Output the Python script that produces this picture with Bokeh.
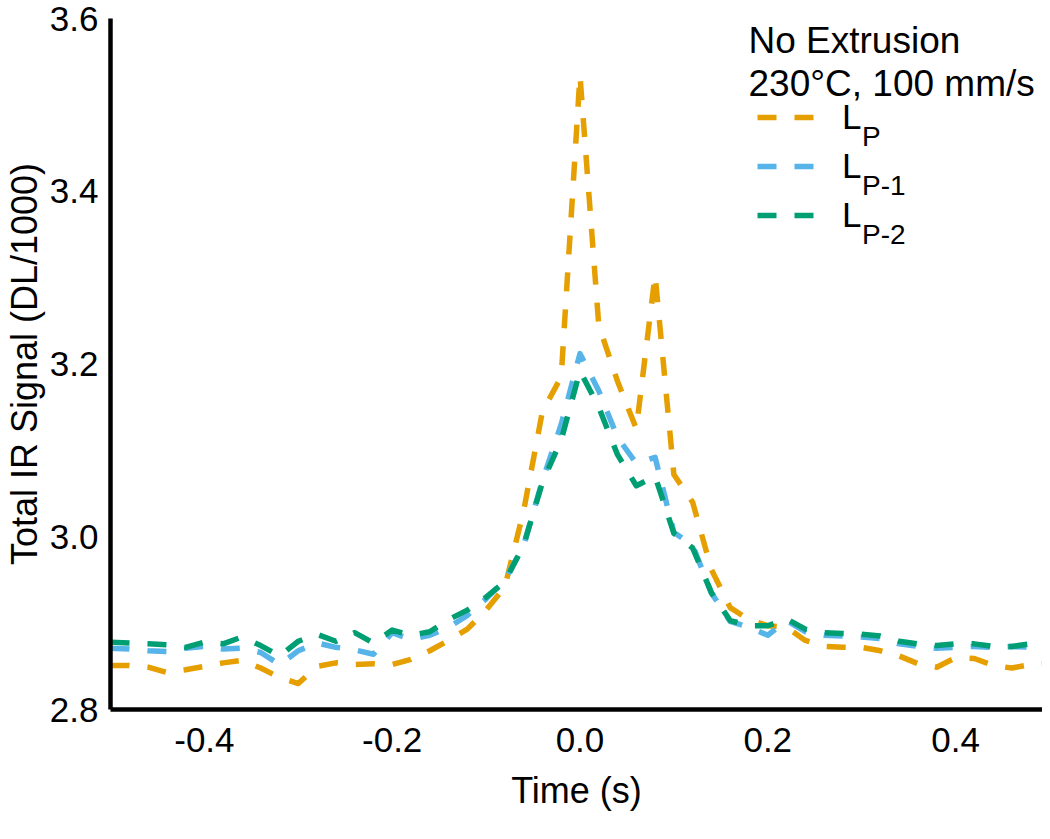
from bokeh.plotting import figure
from bokeh.models import Range1d, FixedTicker, PrintfTickFormatter, Legend, LegendItem, Label
from bokeh.embed import file_html
from bokeh.resources import INLINE

time_s = [-0.50, -0.48, -0.46, -0.44, -0.42, -0.40, -0.38, -0.36, -0.34, -0.32,
          -0.30, -0.28, -0.26, -0.24, -0.22, -0.20, -0.18, -0.16, -0.14, -0.12,
          -0.10, -0.08, -0.06, -0.04, -0.02, 0.00, 0.02, 0.04, 0.06, 0.08,
          0.10, 0.12, 0.14, 0.16, 0.18, 0.20, 0.22, 0.24, 0.26, 0.28,
          0.30, 0.32, 0.34, 0.36, 0.38, 0.40, 0.42, 0.44, 0.46, 0.48, 0.50]

lp = [2.851, 2.851, 2.849, 2.843, 2.846, 2.850, 2.854, 2.857, 2.848, 2.837,
      2.830, 2.850, 2.854, 2.852, 2.853, 2.852, 2.858, 2.868, 2.880, 2.893,
      2.915, 2.942, 3.030, 3.145, 3.185, 3.534, 3.245, 3.180, 3.125, 3.303,
      3.072, 3.040, 2.962, 2.918, 2.904, 2.897, 2.895, 2.880, 2.873, 2.872,
      2.872, 2.868, 2.862, 2.853, 2.849, 2.860, 2.859, 2.851, 2.848, 2.852, 2.853]

lp1 = [2.871, 2.870, 2.868, 2.867, 2.871, 2.873, 2.870, 2.871, 2.866, 2.852,
       2.868, 2.877, 2.872, 2.869, 2.864, 2.889, 2.881, 2.886, 2.895, 2.909,
       2.928, 2.950, 2.990, 3.065, 3.130, 3.212, 3.169, 3.115, 3.085, 3.092,
       3.005, 2.990, 2.935, 2.902, 2.895, 2.886, 2.903, 2.890, 2.886, 2.885,
       2.884, 2.882, 2.876, 2.873, 2.871, 2.872, 2.873, 2.872, 2.873, 2.872, 2.871]

lp2 = [2.878, 2.877, 2.876, 2.875, 2.872, 2.878, 2.876, 2.884, 2.874, 2.862,
       2.879, 2.887, 2.879, 2.889, 2.877, 2.892, 2.886, 2.890, 2.904, 2.915,
       2.930, 2.948, 2.990, 3.063, 3.112, 3.192, 3.150, 3.095, 3.059, 3.070,
       3.004, 2.987, 2.935, 2.903, 2.897, 2.897, 2.905, 2.893, 2.889, 2.888,
       2.887, 2.885, 2.879, 2.876, 2.874, 2.876, 2.876, 2.873, 2.873, 2.876, 2.876]

x_ticks = [-0.4, -0.2, 0.0, 0.2, 0.4]
y_ticks = [2.8, 3.0, 3.2, 3.4, 3.6]

title_lines = ["No Extrusion", "230\u00b0C, 100 mm/s"]
series_names = ["L", "L", "L"]
series_subs = ["P", "P-1", "P-2"]
colors = ["#E69F00", "#56B4E9", "#009E73"]

FONT = "Liberation Sans"

p = figure(width=1042, height=823,
           x_range=Range1d(-0.5, 0.4926), y_range=Range1d(2.8, 3.6),
           output_backend="svg", toolbar_location=None,
           min_border_left=104, min_border_right=0,
           min_border_top=18, min_border_bottom=114)

p.outline_line_color = None
p.xgrid.grid_line_color = None
p.ygrid.grid_line_color = None
p.background_fill_color = "white"
p.border_fill_color = "white"

renderers = []
for ys, c in zip([lp, lp1, lp2], colors):
    r = p.line(time_s, ys, line_color=c, line_width=5.5, line_dash="19 18",
               line_join="round", line_cap="butt")
    renderers.append(r)

for ax in (p.xaxis[0], p.yaxis[0]):
    ax.axis_line_color = "black"
    ax.axis_line_width = 4.5
    ax.major_tick_line_color = None
    ax.minor_tick_line_color = None
    ax.major_tick_out = 0
    ax.major_tick_in = 0
    ax.minor_tick_out = 0
    ax.major_label_text_font = FONT
    ax.major_label_text_font_size = "35px"
    ax.major_label_text_color = "black"
    ax.axis_label_text_font = FONT
    ax.axis_label_text_font_size = "36px"
    ax.axis_label_text_font_style = "normal"
    ax.axis_label_text_color = "black"

p.xaxis[0].ticker = FixedTicker(ticks=x_ticks)
p.yaxis[0].ticker = FixedTicker(ticks=y_ticks)
p.xaxis[0].formatter = PrintfTickFormatter(format="%.1f")
p.yaxis[0].formatter = PrintfTickFormatter(format="%.1f")
p.xaxis[0].axis_label = "Time (s)"
p.yaxis[0].axis_label = "Total IR Signal (DL/1000)"
p.xaxis[0].major_label_standoff = 18
p.xaxis[0].axis_label_standoff = 15
p.yaxis[0].major_label_standoff = 12
p.yaxis[0].axis_label_standoff = 2

legend = Legend(items=[LegendItem(label=n, renderers=[r]) for n, r in zip(series_names, renderers)],
                location=(647, 471), padding=0, margin=0, spacing=3,
                glyph_width=58, glyph_height=46, label_height=46, label_standoff=27,
                border_line_color=None, background_fill_alpha=0,
                label_text_font=FONT, label_text_font_size="35px", label_text_color="black")
p.add_layout(legend, "center")

title_y = [669, 626]
for t, yy in zip(title_lines, title_y):
    p.add_layout(Label(x=638, y=yy, x_units="screen", y_units="screen", text=t,
                       text_font=FONT, text_font_size="37px", text_color="black",
                       text_baseline="alphabetic", text_align="left"))

sub_y = [573, 524, 475]
for s, yy in zip(series_subs, sub_y):
    p.add_layout(Label(x=751.5, y=yy, x_units="screen", y_units="screen", text=s,
                       text_font=FONT, text_font_size="28px", text_color="black",
                       text_baseline="alphabetic", text_align="left"))

open("out.html", "w").write(file_html(p, INLINE))
